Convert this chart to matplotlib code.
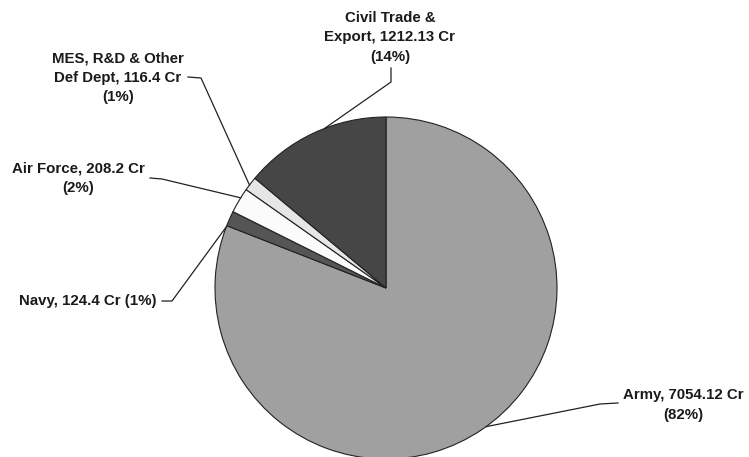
import numpy as np
import matplotlib.pyplot as plt

# spending by segment (Rs crore)
segments = ['Army', 'Navy', 'Air Force', 'MES, R&D & Other\nDef Dept', 'Civil Trade &\nExport']
amounts = [7054.12, 124.4, 208.2, 116.4, 1212.13]
pct_text = ['82%', '1%', '2%', '1%', '14%']
colors = ['#a0a0a0', '#555555', '#fbfbfb', '#e6e6e6', '#464646']

W, H = 749, 457
fig = plt.figure(figsize=(W / 100, H / 100), dpi=100)
ax = fig.add_axes([0, 0, 1, 1])

cx, cy, r = 386, H - 288, 171
wedges, _ = ax.pie(amounts, colors=colors, startangle=90, counterclock=False,
                   center=(cx, cy), radius=r,
                   wedgeprops=dict(edgecolor='#222222', linewidth=0.8))
ax.set_xlim(0, W)
ax.set_ylim(0, H)
ax.set_aspect('equal')
ax.axis('off')

labels = []
for seg, amt, pct in zip(segments, amounts, pct_text):
    head = seg.split('\n')
    if seg == 'Navy':
        labels.append(f'{seg}, {amt:g} Cr ({pct})')
    else:
        head[-1] = f'{head[-1]}, {amt:g} Cr'
        labels.append('\n'.join(head) + f'\n({pct})')

# label centre (px from top-left) and leader elbow points
label_xy = [(683, 405), (88, 301), (78, 178), (118, 78), (390, 37)]
elbows = [[(618, 403), (600, 404)],
          [(162, 301), (172, 301)],
          [(150, 178), (162, 179)],
          [(188, 77), (201, 78)],
          [(391, 68), (391, 82)]]
# small nudges (deg) so leaders meet the rim where they should
nudge = [1.5, 3.0, -1.0, 0.5, -4.0]

for w, lab, (lx, ly), elb, dn in zip(wedges, labels, label_xy, elbows, nudge):
    mid = np.deg2rad((w.theta1 + w.theta2) / 2 + dn)
    ax0 = cx + r * np.cos(mid)
    ay0 = cy + r * np.sin(mid)
    xs = [p[0] for p in elb] + [ax0]
    ys = [H - p[1] for p in elb] + [ay0]
    ax.plot(xs, ys, color='#222222', lw=0.9)
    ax.text(lx, H - ly, lab, ha='center', va='center', fontsize=10.8,
            fontweight='bold', family='Liberation Sans', color='#1a1a1a',
            linespacing=1.5)

fig.savefig('out.png', dpi=100)
